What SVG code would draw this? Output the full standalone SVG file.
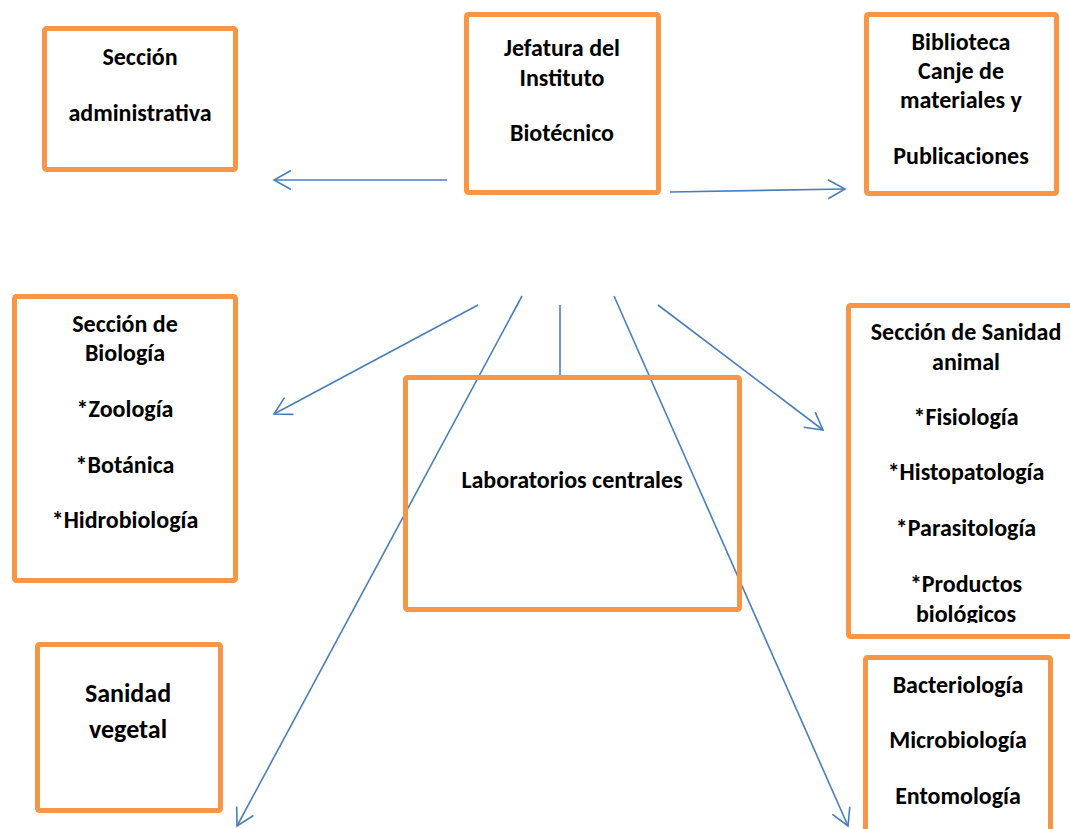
<svg xmlns="http://www.w3.org/2000/svg" width="1070" height="829" viewBox="0 0 1070 829">
<style>
.box{fill:none;stroke:#F79646;stroke-width:5;}
.t{font-family:Carlito,Lato,"Liberation Sans",sans-serif;font-weight:bold;font-size:24px;fill:#000;text-anchor:middle;}
.big{font-size:26px;}
.c{fill:none;stroke:#4A7EBB;stroke-width:1.6;}
</style>
<defs>
<marker id="ah" markerUnits="userSpaceOnUse" viewBox="-20 -12 22 24" refX="0" refY="0" markerWidth="22" markerHeight="24" orient="auto" overflow="visible">
<path d="M-17,-9.5 L0,0 L-17,9.5" fill="none" stroke="#4A7EBB" stroke-width="1.6"/>
</marker>
<clipPath id="clipSA"><rect x="850" y="305" width="225" height="318"/></clipPath>
</defs>
<g id="connectors">
<line class="c" x1="447" y1="180" x2="274" y2="180" marker-end="url(#ah)"/>
<line class="c" x1="670" y1="192" x2="845" y2="189" marker-end="url(#ah)"/>
<line class="c" x1="478" y1="305" x2="274" y2="414" marker-end="url(#ah)"/>
<line class="c" x1="522" y1="296" x2="237" y2="826" marker-end="url(#ah)"/>
<line class="c" x1="560" y1="305" x2="560" y2="376"/>
<line class="c" x1="614" y1="296" x2="848" y2="826" marker-end="url(#ah)"/>
<line class="c" x1="658" y1="305" x2="823" y2="430" marker-end="url(#ah)"/>
</g>
<g id="seccion-administrativa">
<rect class="box" x="44.5" y="28.5" width="191" height="141" rx="2"/>
<text class="t" x="140" y="65">Sección</text>
<text class="t" x="140" y="121">administrativa</text>
</g>
<g id="jefatura">
<rect class="box" x="466.5" y="14.5" width="192" height="178" rx="2"/>
<text class="t" x="562" y="56">Jefatura del</text>
<text class="t" x="562" y="86">Instituto</text>
<text class="t" x="562" y="141">Biotécnico</text>
</g>
<g id="biblioteca">
<rect class="box" x="866.5" y="14.5" width="190" height="179" rx="2"/>
<text class="t" x="961" y="50">Biblioteca</text>
<text class="t" x="961" y="79">Canje de</text>
<text class="t" x="961" y="108">materiales y</text>
<text class="t" x="961" y="164">Publicaciones</text>
</g>
<g id="seccion-biologia">
<rect class="box" x="14.5" y="296.5" width="221" height="284" rx="2"/>
<text class="t" x="125" y="332">Sección de</text>
<text class="t" x="125" y="361">Biología</text>
<text class="t" x="125" y="417">*Zoología</text>
<text class="t" x="125" y="473">*Botánica</text>
<text class="t" x="125" y="528">*Hidrobiología</text>
</g>
<g id="laboratorios">
<rect class="box" x="405.5" y="377.5" width="334" height="232" rx="2"/>
<text class="t" x="572" y="488">Laboratorios centrales</text>
</g>
<g id="sanidad-animal">
<rect class="box" x="848.5" y="305.5" width="230" height="331" rx="2"/>
<g clip-path="url(#clipSA)">
<text class="t" x="966" y="340">Sección de Sanidad</text>
<text class="t" x="966" y="370">animal</text>
<text class="t" x="966" y="425">*Fisiología</text>
<text class="t" x="966" y="480">*Histopatología</text>
<text class="t" x="966" y="536">*Parasitología</text>
<text class="t" x="966" y="592">*Productos</text>
<text class="t" x="966" y="622">biológicos</text>
</g>
</g>
<g id="sanidad-vegetal">
<rect class="box" x="37.5" y="644.5" width="183" height="166" rx="2"/>
<text class="t big" x="128" y="702">Sanidad</text>
<text class="t big" x="128" y="738">vegetal</text>
</g>
<g id="bacteriologia">
<rect class="box" x="865.5" y="657.5" width="185" height="200" rx="2"/>
<text class="t" x="958" y="693">Bacteriología</text>
<text class="t" x="958" y="748">Microbiología</text>
<text class="t" x="958" y="804">Entomología</text>
</g>
</svg>
